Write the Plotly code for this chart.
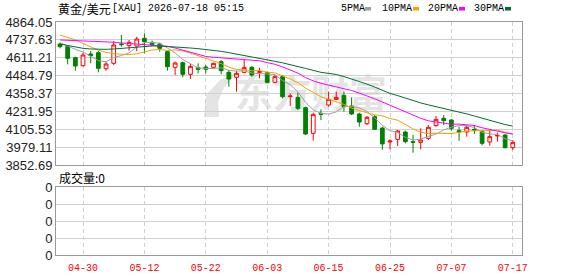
import plotly.graph_objects as go

dates = ["04-27", "04-28", "04-29", "04-30", "05-01", "05-04", "05-05", "05-06", "05-07", "05-08",
         "05-11", "05-12", "05-13", "05-14", "05-15", "05-18", "05-19", "05-20", "05-21", "05-22",
         "05-25", "05-26", "05-27", "05-28", "05-29", "06-01", "06-02", "06-03", "06-04", "06-05",
         "06-08", "06-09", "06-10", "06-11", "06-12", "06-15", "06-16", "06-17", "06-18", "06-19",
         "06-22", "06-23", "06-24", "06-25", "06-26", "06-29", "06-30", "07-01", "07-02", "07-03",
         "07-06", "07-07", "07-08", "07-09", "07-10", "07-13", "07-14", "07-15", "07-16", "07-17"]

open_ = [4708.5, 4689.6, 4611.8, 4555.2, 4637.7, 4647.2, 4534.0, 4571.7, 4708.5, 4696.7,
         4694.3, 4748.5, 4720.3, 4708.5, 4654.2, 4543.4, 4576.4, 4494.0, 4541.1, 4545.8,
         4543.4, 4583.5, 4508.1, 4472.7, 4508.1, 4543.4, 4508.1, 4505.7, 4437.4, 4477.4,
         4336.0, 4331.3, 4258.2, 4076.7, 4218.1, 4277.0, 4317.1, 4345.0, 4270.0, 4213.4,
         4145.0, 4194.5, 4114.0, 4015.3, 4034.2, 4086.0, 4017.7, 4013.0, 4041.3, 4130.9,
         4182.7, 4171.0, 4095.5, 4086.0, 4105.0, 4088.4, 4015.3, 4057.8, 4064.9, 3975.3]
high = [4717.9, 4694.0, 4618.9, 4647.2, 4658.9, 4658.9, 4583.5, 4729.7, 4772.1, 4736.7,
        4760.3, 4783.9, 4732.0, 4717.9, 4661.3, 4583.5, 4583.5, 4567.0, 4571.7, 4560.0,
        4576.4, 4595.3, 4524.6, 4519.9, 4600.0, 4552.9, 4541.1, 4512.8, 4489.2, 4489.2,
        4359.5, 4364.3, 4265.3, 4222.8, 4246.4, 4371.3, 4371.3, 4371.3, 4331.3, 4222.8,
        4199.2, 4206.3, 4123.8, 4034.2, 4100.2, 4095.5, 4064.9, 4112.0, 4135.6, 4199.2,
        4206.3, 4175.7, 4123.8, 4128.5, 4135.6, 4095.5, 4100.2, 4081.4, 4071.9, 4029.5]
low = [4677.8, 4564.6, 4519.9, 4548.2, 4571.7, 4508.1, 4519.9, 4559.9, 4689.6, 4661.3,
       4658.9, 4642.5, 4694.3, 4654.2, 4519.9, 4489.2, 4472.7, 4460.9, 4501.0, 4501.0,
       4536.4, 4494.0, 4406.7, 4371.3, 4501.0, 4477.4, 4465.6, 4430.3, 4430.3, 4324.2,
       4270.0, 4241.7, 4064.9, 4024.8, 4170.9, 4265.3, 4312.4, 4229.9, 4206.3, 4123.8,
       4135.6, 4100.2, 3961.0, 3963.5, 3987.1, 4005.9, 3939.9, 3963.5, 4029.5, 4123.8,
       4135.6, 4095.5, 4024.8, 4053.1, 4071.9, 3991.8, 3989.4, 4017.7, 3970.6, 3958.8]
close = [4689.6, 4607.1, 4552.9, 4630.7, 4625.9, 4536.4, 4567.0, 4701.4, 4703.7, 4720.3,
         4743.8, 4725.0, 4703.7, 4677.8, 4548.2, 4574.1, 4494.0, 4550.5, 4529.3, 4529.3,
         4571.7, 4519.9, 4460.9, 4501.0, 4541.1, 4489.2, 4512.8, 4437.4, 4477.4, 4336.0,
         4340.7, 4253.5, 4072.0, 4210.9, 4210.9, 4317.0, 4331.3, 4265.0, 4213.4, 4156.8,
         4189.8, 4104.9, 4002.0, 4022.4, 4093.1, 4017.7, 4013.0, 4029.5, 4119.1, 4175.7,
         4166.2, 4112.0, 4086.0, 4119.1, 4100.2, 4005.9, 4053.1, 4062.5, 3975.3, 4013.0]

ma5 = [4718.0, 4694.0, 4671.0, 4652.0, 4621.2, 4590.6, 4582.6, 4612.3, 4626.9, 4645.8,
       4687.2, 4718.8, 4719.3, 4714.1, 4679.7, 4645.8, 4599.6, 4568.9, 4539.2, 4535.4,
       4535.0, 4540.1, 4522.2, 4516.6, 4518.9, 4502.4, 4501.0, 4496.3, 4491.6, 4450.6,
       4420.9, 4369.0, 4295.9, 4242.6, 4217.6, 4212.9, 4228.4, 4267.0, 4267.5, 4256.7,
       4231.3, 4186.0, 4133.4, 4095.2, 4082.4, 4048.0, 4029.6, 4035.1, 4054.5, 4071.0,
       4100.7, 4120.5, 4131.8, 4131.8, 4116.7, 4084.6, 4072.9, 4068.2, 4039.4, 4022.0]
ma10 = [4772.0, 4756.0, 4738.0, 4712.0, 4688.0, 4665.0, 4650.0, 4640.0, 4636.0, 4633.5,
        4638.9, 4650.7, 4665.8, 4670.5, 4662.7, 4666.5, 4659.2, 4644.1, 4626.7, 4607.6,
        4590.4, 4569.9, 4545.6, 4527.9, 4527.2, 4518.7, 4520.6, 4509.3, 4504.1, 4484.7,
        4461.6, 4435.0, 4396.1, 4367.1, 4334.1, 4316.9, 4298.7, 4281.5, 4255.1, 4237.2,
        4222.1, 4207.2, 4200.2, 4181.4, 4169.6, 4139.6, 4107.8, 4084.3, 4074.8, 4076.7,
        4074.4, 4075.1, 4083.5, 4093.1, 4093.9, 4092.7, 4096.7, 4100.0, 4085.6, 4069.3]
ma20 = [4737.0, 4735.0, 4734.0, 4732.0, 4730.0, 4728.0, 4725.0, 4721.0, 4716.0, 4712.0,
        4709.0, 4706.0, 4703.0, 4699.0, 4692.0, 4680.0, 4665.0, 4648.0, 4633.0, 4620.5,
        4614.6, 4610.3, 4605.7, 4599.2, 4595.0, 4592.6, 4589.9, 4576.7, 4565.4, 4546.2,
        4526.0, 4502.4, 4470.8, 4447.5, 4430.6, 4417.8, 4409.6, 4395.4, 4379.6, 4360.9,
        4341.9, 4321.1, 4298.2, 4274.2, 4251.8, 4228.3, 4203.3, 4182.9, 4165.0, 4156.9,
        4148.2, 4141.1, 4141.8, 4137.2, 4131.7, 4116.2, 4102.2, 4092.1, 4080.2, 4073.0]
ma30 = [4708.5, 4696.7, 4687.2, 4677.8, 4673.1, 4670.7, 4670.7, 4673.1, 4677.8, 4682.5,
        4687.2, 4692.0, 4694.3, 4694.3, 4692.0, 4689.6, 4684.9, 4680.2, 4675.5, 4670.7,
        4663.7, 4656.6, 4647.2, 4637.7, 4628.3, 4618.9, 4609.4, 4597.7, 4585.9, 4575.3,
        4563.6, 4551.9, 4535.8, 4521.8, 4508.0, 4500.7, 4492.8, 4478.3, 4461.9, 4443.2,
        4424.7, 4404.0, 4380.6, 4358.8, 4343.6, 4325.1, 4309.0, 4291.7, 4278.0, 4266.2,
        4252.7, 4239.1, 4226.6, 4213.9, 4199.2, 4183.1, 4167.7, 4155.2, 4138.5, 4127.7]

volume = [0] * 60

x_tick_labels = ["04-30", "05-12", "05-22", "06-03", "06-15", "06-25", "07-07", "07-17"]
y_tick_labels = ["4864.05", "4737.63", "4611.21", "4484.79", "4358.37",
                 "4231.95", "4105.53", "3979.11", "3852.69"]
vol_tick_labels = ["0", "0", "0", "0", "0"]

title_cn = "黄金/美元"
title_rest = "[XAU] 2026-07-18 05:15"
vol_title = "成交量:0"
watermark = "东方财富"
legend_names = ["5PMA", "10PMA", "20PMA", "30PMA"]
ma_colors = ["#a0a0a0", "#f5a300", "#ff00ff", "#006e33"]

W, H = 578, 276
L, R, T, B = 56, 56, 22, 21
PW, PH = W - L - R, H - T - B


def px_x(px):
    return (px - L) / PW


def px_y(py):
    return (H - B - py) / PH


fig = go.Figure()

fig.add_trace(go.Candlestick(
    x=dates, open=open_, high=high, low=low, close=close,
    increasing=dict(line=dict(color="#ff0000", width=1), fillcolor="#ffffff"),
    decreasing=dict(line=dict(color="#008000", width=1), fillcolor="#008000"),
    whiskerwidth=0, showlegend=False, hoverinfo="skip",
    xaxis="x", yaxis="y"))

for series, col in zip([ma5, ma10, ma20, ma30], ma_colors):
    fig.add_trace(go.Scatter(x=dates, y=series, mode="lines",
                             line=dict(color=col, width=1),
                             showlegend=False, hoverinfo="skip",
                             xaxis="x", yaxis="y"))

fig.add_trace(go.Bar(x=dates, y=volume, marker_color="#ff0000",
                     marker_line_width=0, showlegend=False, hoverinfo="skip",
                     xaxis="x2", yaxis="y2"))

grid_col = "#d0d0d0"
frame_col = "#999999"
common_x = dict(type="category", range=[-0.52, 60.2], tickmode="array",
                tickvals=x_tick_labels, ticktext=x_tick_labels,
                showgrid=True, gridcolor=grid_col, griddash="4px,3px",
                showline=True, mirror=True, linecolor=frame_col, linewidth=1,
                zeroline=False, fixedrange=True, automargin=False)
common_y = dict(showgrid=True, gridcolor=grid_col, showline=True, mirror=True,
                linecolor=frame_col, linewidth=1, zeroline=False, ticks="",
                automargin=False, fixedrange=True,
                tickfont=dict(family="Liberation Sans", size=13, color="#222222"))

fig.update_layout(
    width=W, height=H,
    margin=dict(l=L, r=R, t=T, b=B, pad=0, autoexpand=False),
    paper_bgcolor="white", plot_bgcolor="white",
    showlegend=False,
    xaxis=dict(common_x, anchor="y", showticklabels=False, ticks="",
               rangeslider=dict(visible=False)),
    xaxis2=dict(common_x, anchor="y2", matches="x", showticklabels=True,
                ticks="outside", ticklen=3, tickcolor="rgba(0,0,0,0)",
                tickfont=dict(family="Liberation Mono", size=10, color="#ff0000")),
    yaxis=dict(common_y, domain=[px_y(165), 1], range=[3852.69, 4864.05],
               tickmode="array", tickvals=[float(v) for v in y_tick_labels],
               ticktext=y_tick_labels),
    yaxis2=dict(common_y, domain=[0, px_y(187)], range=[0, 4],
                tickmode="array", tickvals=[0, 1, 2, 3, 4],
                ticktext=vol_tick_labels),
)

# watermark: swoosh logo + text, below the traces
wm_col = "#e4e4e4"
pts = [(204, 117), (206, 95), (220, 80), (236, 73), (224, 88), (218, 102), (219, 117)]
path = "M " + " L ".join(f"{px_x(a):.4f},{px_y(b):.4f}" for a, b in pts) + " Z"
fig.add_shape(type="path", xref="paper", yref="paper", path=path,
              line=dict(width=0), fillcolor=wm_col, layer="below")
fig.add_shape(type="rect", xref="paper", yref="paper",
              x0=px_x(236), x1=px_x(386), y0=px_y(118), y1=px_y(74),
              line=dict(width=0), fillcolor="rgba(0,0,0,0)", layer="below",
              label=dict(text=watermark,
                         font=dict(family="Noto Sans CJK SC", size=38,
                                   color=wm_col, weight="bold"),
                         textposition="middle center"))

annotations = [
    dict(text=title_cn, x=px_x(56), y=px_y(8.5), xanchor="left", yanchor="middle",
         font=dict(family="Noto Sans CJK SC", size=12, color="#000000")),
    dict(text=title_rest, x=px_x(110), y=px_y(8.5), xanchor="left", yanchor="middle",
         font=dict(family="Liberation Mono", size=10, color="#000000")),
    dict(text=vol_title, x=px_x(57), y=px_y(177), xanchor="left", yanchor="middle",
         font=dict(family="Noto Sans CJK SC", size=12, color="#000000")),
]
legend_text_x = [339, 380, 426, 472]
legend_sq_x = [365, 413, 459, 505]
for name, tx, sx, col in zip(legend_names, legend_text_x, legend_sq_x, ma_colors):
    annotations.append(dict(text=name, x=px_x(tx), y=px_y(8.5), xanchor="left",
                            yanchor="middle",
                            font=dict(family="Liberation Mono", size=10, color="#000000")))
    fig.add_shape(type="rect", xref="paper", yref="paper",
                  x0=px_x(sx), x1=px_x(sx + 6), y0=px_y(10.5), y1=px_y(7),
                  line=dict(width=0), fillcolor=col)

for a in annotations:
    a.update(xref="paper", yref="paper", showarrow=False)
fig.update_layout(annotations=annotations)

fig.write_html("out.html", config={"displayModeBar": False})
